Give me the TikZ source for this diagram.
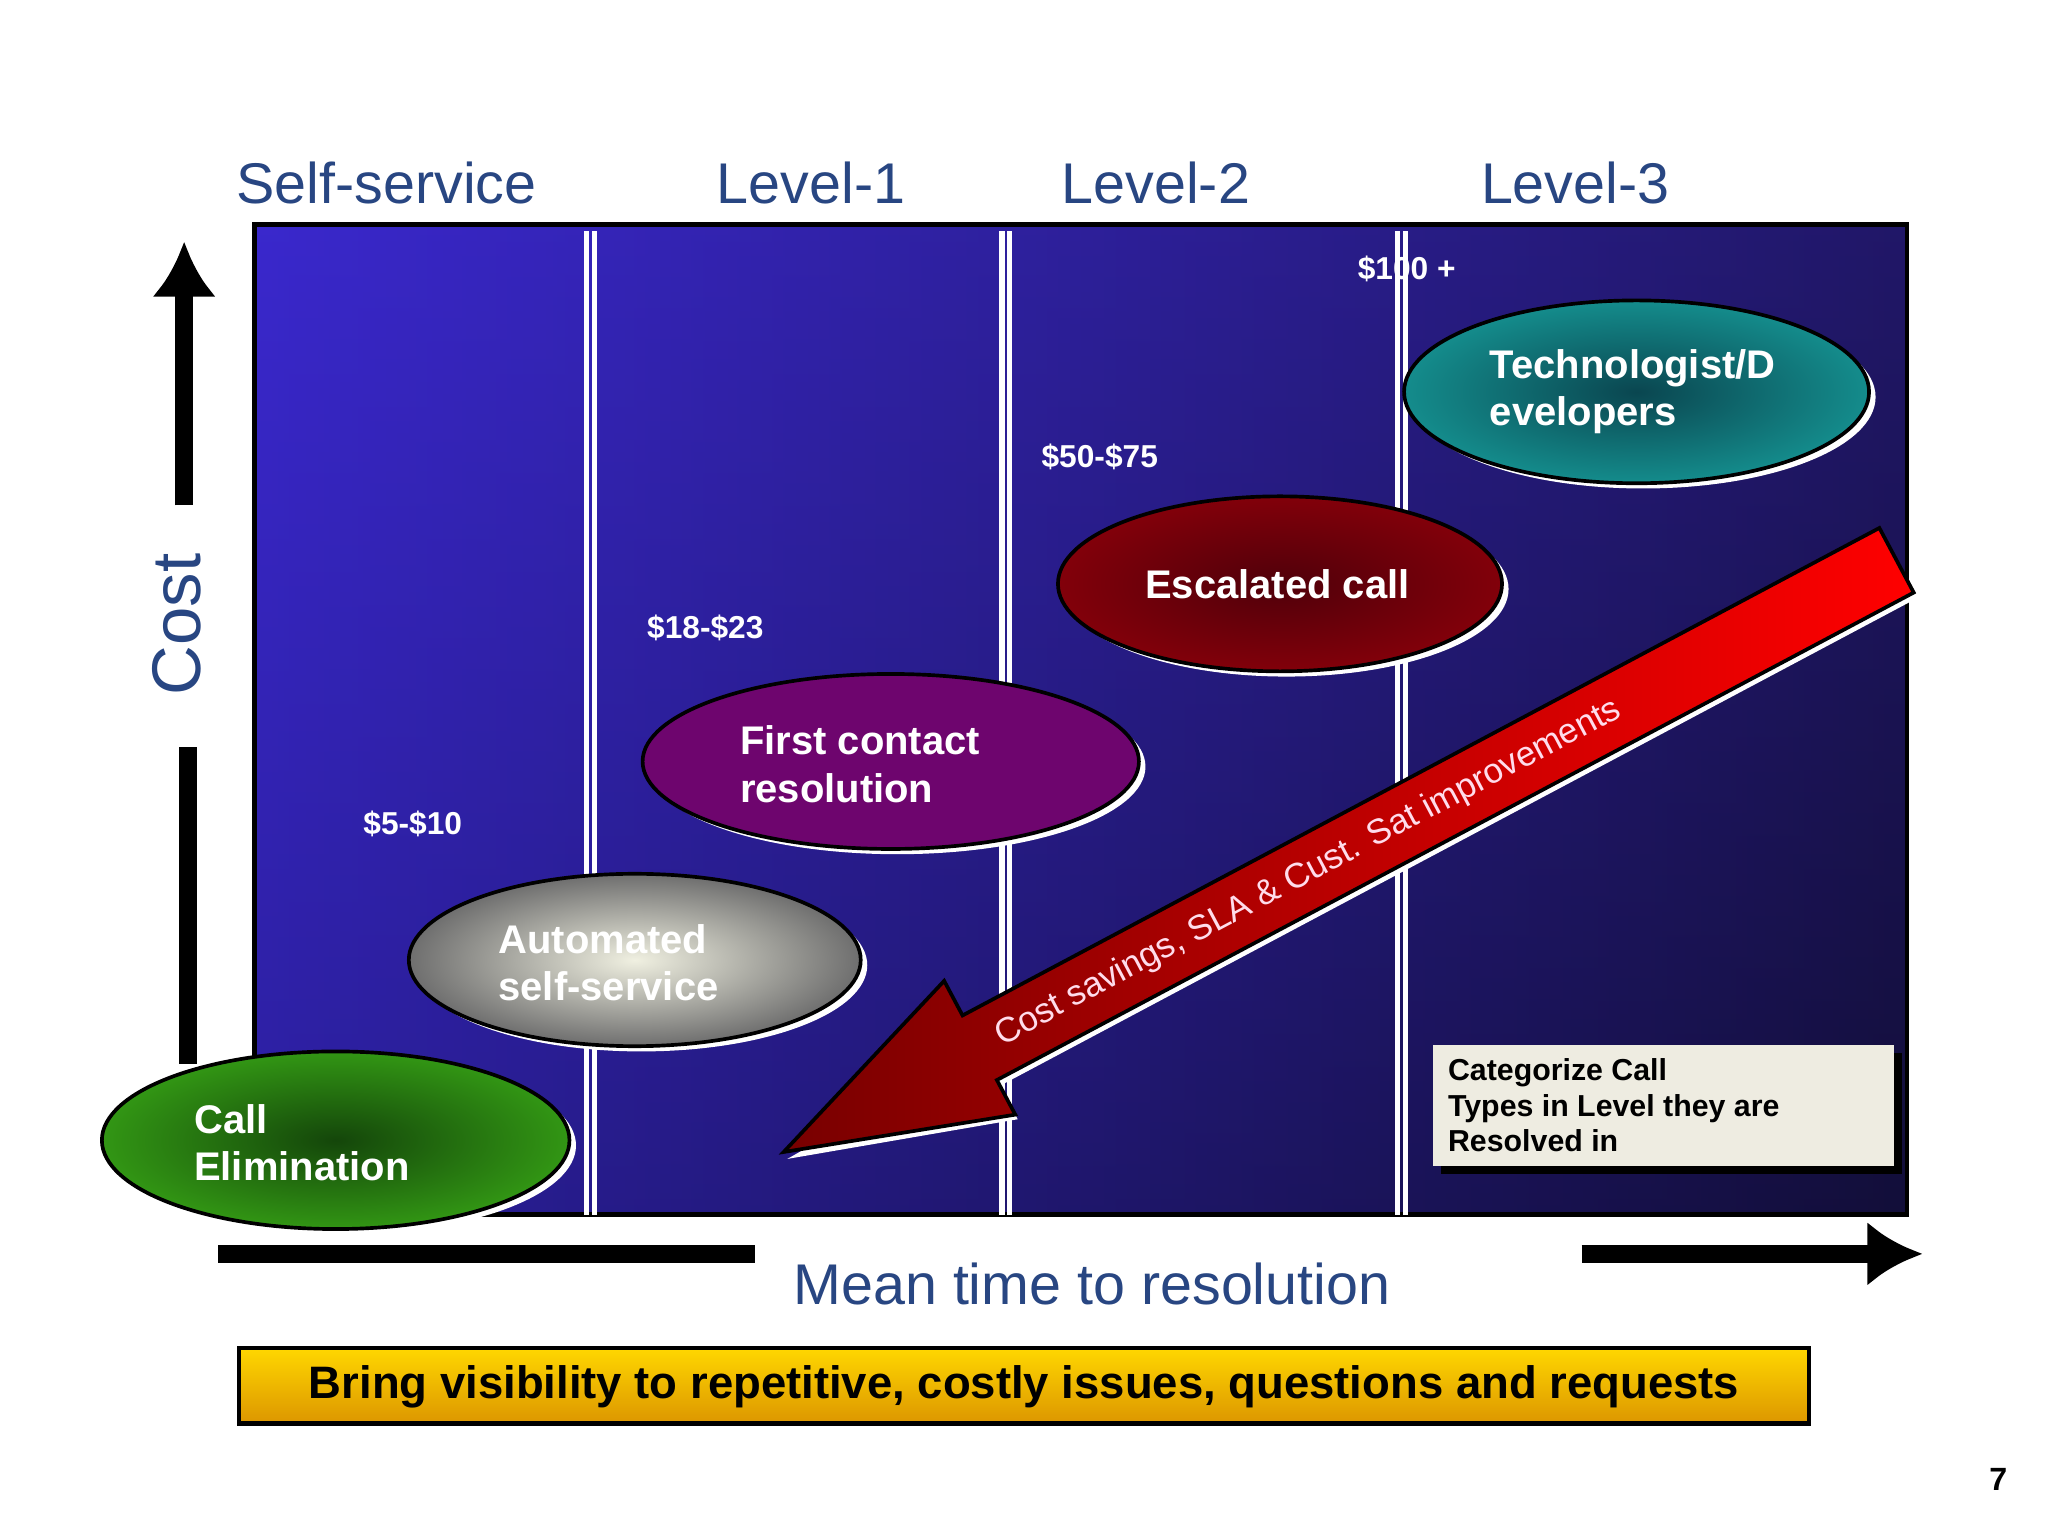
\documentclass[tikz,border=0pt]{standalone}
\usepackage{fontspec}
\setmainfont{Liberation Sans}
\usetikzlibrary{shadows,arrows.meta}
\definecolor{hdr}{RGB}{40,70,130}
\definecolor{pl}{RGB}{58,40,205}
\definecolor{pr}{RGB}{22,16,60}
\definecolor{pd}{RGB}{10,10,50}
\definecolor{gi}{RGB}{20,70,10}\definecolor{go}{RGB}{50,150,20}
\definecolor{si}{RGB}{240,240,225}\definecolor{so}{RGB}{110,110,110}
\definecolor{pu}{RGB}{110,5,110}
\definecolor{ri}{RGB}{80,0,10}\definecolor{ro}{RGB}{130,0,10}
\definecolor{ti}{RGB}{10,70,80}\definecolor{to}{RGB}{20,140,140}
\definecolor{ar}{RGB}{120,0,0}
\definecolor{at}{RGB}{255,220,235}
\definecolor{bx}{RGB}{238,236,225}
\definecolor{yt}{RGB}{255,215,0}\definecolor{yb}{RGB}{220,150,0}
\begin{document}
\begin{tikzpicture}[x=0.01cm,y=-0.01cm,
  oval/.style={draw=black,line width=0.8pt},
  price/.style={text=white,font=\bfseries\fontsize{6.9}{8}\selectfont},
  lab/.style={text=white,font=\bfseries\fontsize{8.7}{10.3}\selectfont,align=left,inner sep=0pt},
  hd/.style={text=hdr,font=\fontsize{12.5}{14}\selectfont}]
\useasboundingbox (0,0) rectangle (1568,1176);
\fill[white] (0,0) rectangle (1568,1176);
% panel
\shade[left color=pl, right color=pr] (195,172) rectangle (1460,930);
\shade[top color=pl,bottom color=pd,opacity=0.3] (195,172) rectangle (1460,930);
\draw[black,line width=1pt] (195,172) rectangle (1460,930);
\foreach \x in {452,770,1073}{
  \draw[white,line width=1.2pt] (\x-3,177) -- (\x-3,930);
  \draw[white,line width=1.2pt] (\x+3,177) -- (\x+3,930);}
% headers
\node[hd] (h0) at (296,140) {Self-service};
\node[hd] (h1) at (621,140) {Level-1};
\node[hd] (h2) at (885,140) {Level-2};
\node[hd] (h3) at (1206,140) {Level-3};
% cost axis
\coordinate (c1) at (141,387); \coordinate (c2) at (141,185);
\draw[line width=4pt,-{Latex[length=12pt,width=14pt]}] (c1) -- (c2);
\coordinate (c3) at (144,572); \coordinate (c4) at (144,815);
\draw[line width=4pt] (c3) -- (c4);
\node[hd,rotate=90,font=\fontsize{15}{17}\selectfont] (cost) at (135,478) {Cost};
% time axis
\coordinate (t1) at (167,960); \coordinate (t2) at (578,960);
\draw[line width=4pt] (t1) -- (t2);
\coordinate (t3) at (1211,960); \coordinate (t4) at (1472,960);
\draw[line width=4pt,-{Latex[length=12pt,width=14pt]}] (t3) -- (t4);
\node[hd,font=\fontsize{12.5}{14}\selectfont] (mt) at (836,983) {Mean time to resolution};
% ellipses
\newcommand{\myoval}[5]{%
  \fill[white] (#1+5,#2+4) ellipse [x radius=#3,y radius=#4];
  \shade[#5] (#1,#2) ellipse [x radius=#3,y radius=#4];
  \draw[oval] (#1,#2) ellipse [x radius=#3,y radius=#4];}
\myoval{257}{873}{179}{68}{inner color=gi,outer color=go}
\myoval{486}{735}{173}{66}{inner color=si,outer color=so}
\myoval{682}{583}{190}{67}{inner color=pu,outer color=pu}
\myoval{980}{447}{170}{67}{inner color=ri,outer color=ro}
\myoval{1253}{300}{178}{70}{inner color=ti,outer color=to}
\node[lab,anchor=west] (ce) at (148,875) {Call\\Elimination};
\node[lab,anchor=west] (as) at (381,737) {Automated\\self-service};
\node[lab,anchor=west] (fc) at (566,585) {First contact\\resolution};
\node[lab] (ec) at (978,447) {Escalated call};
\node[lab,anchor=west] (td) at (1140,300) {Technologist/D\\evelopers};
% prices
\node[price] (p1) at (316,631) {\$5-\$10};
\node[price] (p2) at (540,481) {\$18-\$23};
\node[price] (p3) at (842,350) {\$50-\$75};
\node[price] (p4) at (1077,206) {\$100 +};
% big arrow
\begin{scope}[shift={(600,882)},rotate=28]
 \fill[white] (0,6) -- (170,62) -- (170,33) -- (965,33) -- (965,-20) -- cycle;
 \shade[left color=ar,right color=red,draw=black,line width=0.8pt]
   (0,0) -- (170,-58) -- (170,-28) -- (965,-28) -- (965,28) -- (170,28) -- (170,58) -- cycle;
 \node[text=at,rotate=28,font=\fontsize{7.6}{9}\selectfont] (ct) at (455,0) {Cost savings, SLA \& Cust. Sat improvements};
\end{scope}
% categorize box
\fill[black] (1103,806) rectangle (1456,899);
\fill[bx] (1097,800) rectangle (1450,893);
\node[anchor=north west,align=left,font=\bfseries\fontsize{6.6}{7.7}\selectfont,inner sep=0pt] (cat) at (1108,810) {Categorize Call\\Types in Level they are\\Resolved in};
% yellow box
\shade[top color=yt,bottom color=yb,draw=black,line width=1pt] (183,1032) rectangle (1385,1090);
\node[font=\bfseries\fontsize{9.9}{12}\selectfont] (ybt) at (784,1062) {Bring visibility to repetitive, costly issues, questions and requests};
\node[font=\bfseries\fontsize{7}{8}\selectfont] (pg) at (1530,1133) {7};
\end{tikzpicture}
\end{document}
